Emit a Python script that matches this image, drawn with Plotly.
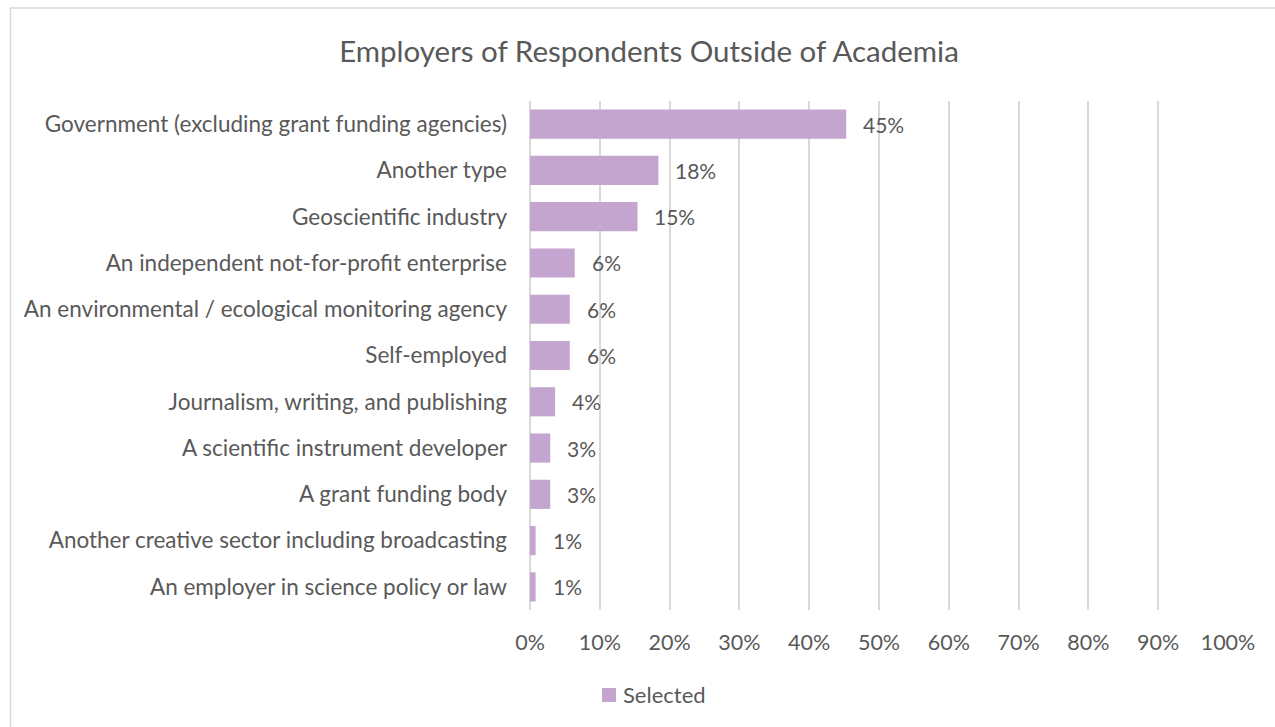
import plotly.graph_objects as go

# Employer categories, top to bottom as shown
categories = [
    "Government (excluding grant funding agencies)",
    "Another type",
    "Geoscientific industry",
    "An independent not-for-profit enterprise",
    "An environmental / ecological monitoring agency",
    "Self-employed",
    "Journalism, writing, and publishing",
    "A scientific instrument developer",
    "A grant funding body",
    "Another creative sector including broadcasting",
    "An employer in science policy or law",
]

# Share of respondents (%)
selected = [45.3, 18.4, 15.4, 6.4, 5.7, 5.7, 3.6, 2.9, 2.9, 0.8, 0.8]

x_ticks = list(range(0, 101, 10))
x_tick_labels = [f"{t}%" for t in x_ticks]

FONT = "Lato, 'Open Sans', sans-serif"
GREY_TEXT = "#595959"
GRID = "#d9d9d9"
BAR = "#c3a5cf"

# Plot-area geometry in pixels (used to place the frame and the legend key)
L, R, T, B = 530, 47, 101, 117
W, H = 1275, 727
PW, PH = W - L - R, H - T - B


def px_x(x):
    return (x - L) / PW


def px_y(y):
    return (H - B - y) / PH


fig = go.Figure()
fig.add_trace(go.Bar(
    x=selected,
    y=categories,
    orientation="h",
    name="Selected",
    marker=dict(color=BAR, line=dict(width=0)),
    hoverinfo="x+y",
    showlegend=False,
))

# Value labels next to each bar
for cat, val in zip(categories, selected):
    fig.add_annotation(
        x=val, y=cat, xref="x", yref="y",
        text=f"{round(val):d}%",
        showarrow=False, xanchor="left", xshift=15,
        font=dict(family=FONT, size=21, color=GREY_TEXT),
    )

# Light frame around the chart area
fig.add_shape(
    type="rect", xref="paper", yref="paper",
    x0=px_x(10.5), x1=px_x(1300), y0=px_y(760), y1=px_y(8),
    line=dict(color=GRID, width=1.5), fillcolor="rgba(0,0,0,0)",
    layer="below",
)

# Legend key: swatch + series name
fig.add_shape(
    type="rect", xref="paper", yref="paper",
    x0=px_x(602), x1=px_x(616), y0=px_y(702), y1=px_y(688),
    line=dict(width=0), fillcolor=BAR,
)
fig.add_annotation(
    x=px_x(621), y=px_y(694), xref="paper", yref="paper",
    text="Selected", showarrow=False, xanchor="left", yanchor="middle",
    font=dict(family=FONT, size=22, color=GREY_TEXT),
)

fig.update_layout(
    width=W, height=H,
    margin=dict(l=L, r=R, t=T, b=B),
    paper_bgcolor="white", plot_bgcolor="white",
    bargap=0.37,
    font=dict(family=FONT, size=22, color=GREY_TEXT),
    title=dict(
        text="Employers of Respondents Outside of Academia",
        x=0.509, xref="container", xanchor="center",
        y=1 - 52 / H, yref="container", yanchor="middle",
        font=dict(family=FONT, size=29.5, color=GREY_TEXT),
    ),
    showlegend=False,
    xaxis=dict(
        range=[0, 100], tickvals=x_ticks, ticktext=x_tick_labels,
        showgrid=True, gridcolor=GRID, gridwidth=1.5,
        zeroline=True, zerolinecolor=GRID, zerolinewidth=1.5,
        showline=False, ticks="", ticklabelstandoff=17,
        tickfont=dict(family=FONT, size=21.5, color=GREY_TEXT),
        fixedrange=True,
    ),
    yaxis=dict(
        autorange="reversed", showgrid=False, zeroline=False,
        showline=False, ticks="", ticklabelstandoff=22,
        tickfont=dict(family=FONT, size=22.5, color=GREY_TEXT),
        fixedrange=True,
    ),
)

fig.write_html("out.html")
